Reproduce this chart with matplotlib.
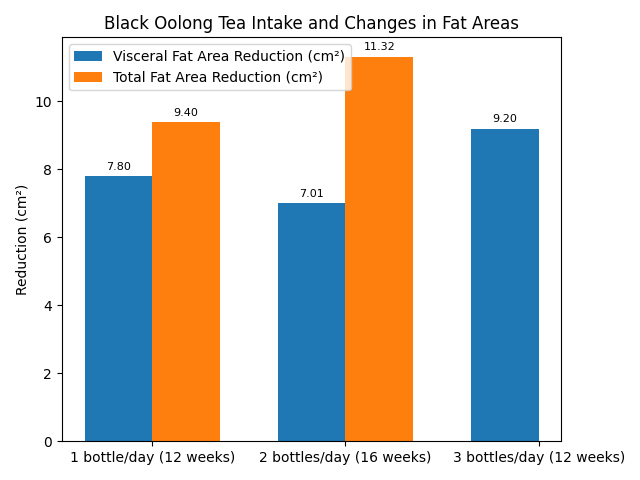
import numpy as np
import matplotlib
matplotlib.use("Agg")
import matplotlib.pyplot as plt

groups = ['1 bottle/day (12 weeks)', '2 bottles/day (16 weeks)', '3 bottles/day (12 weeks)']
visceral = [7.80, 7.01, 9.20]
total = [9.40, 11.32, np.nan]

x = np.arange(len(groups))
width = 0.35

fig, ax = plt.subplots(figsize=(6.4, 4.8), dpi=100)
bars1 = ax.bar(x - width / 2, visceral, width, label='Visceral Fat Area Reduction (cm²)')
bars2 = ax.bar(x + width / 2, total, width, label='Total Fat Area Reduction (cm²)')

# value labels above bars
for bars in (bars1, bars2):
    for b in bars:
        h = b.get_height()
        if np.isnan(h):
            continue
        ax.annotate(f'{h:.2f}', xy=(b.get_x() + b.get_width() / 2, h),
                    xytext=(0, 3), textcoords='offset points',
                    ha='center', va='bottom', fontsize=8)

ax.set_ylabel('Reduction (cm²)')
ax.set_title('Black Oolong Tea Intake and Changes in Fat Areas')
ax.set_xticks(x)
ax.set_xticklabels(groups)
ax.legend(loc='upper left')

fig.tight_layout()
fig.savefig('out.png')
